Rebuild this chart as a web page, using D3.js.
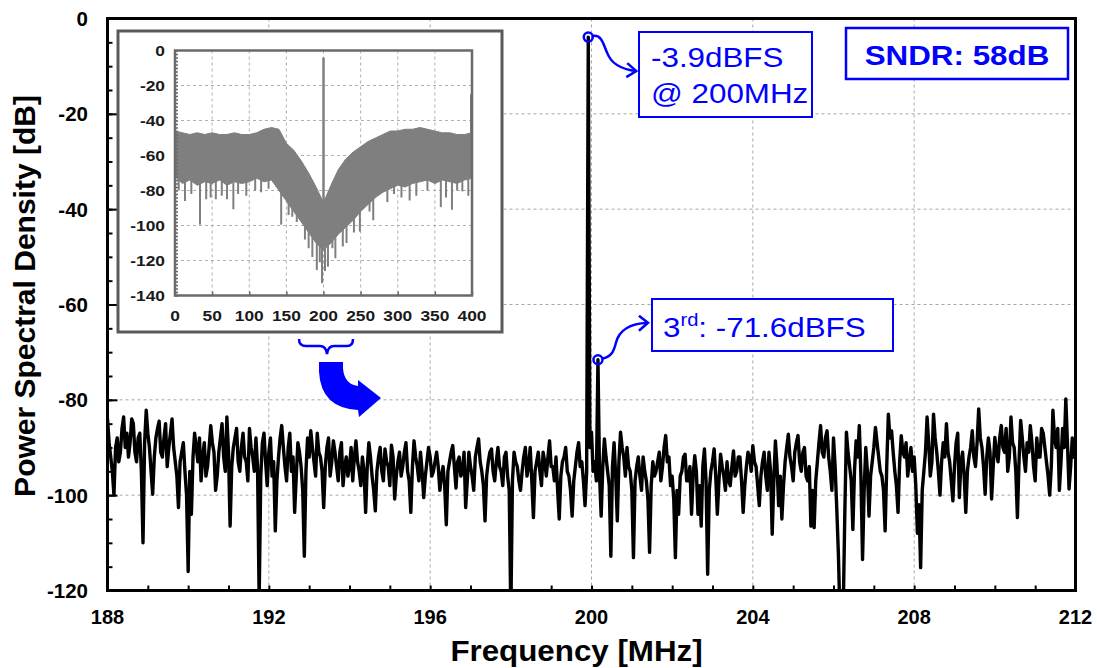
<!DOCTYPE html>
<html>
<head>
<meta charset="utf-8">
<script src="https://cdn.jsdelivr.net/npm/d3@7"></script>
<style>
  body { margin: 0; background: #fff; }
  svg { display: block; font-family: Arial, "Liberation Sans", sans-serif; }
</style>
</head>
<body>
<svg id="chart" width="1097" height="668"></svg>
<script>
// ---- spectrum around the tone: FFT bins from 188 MHz, 0.04 MHz apart ----
const binStart = 188;
const binWidth = 0.04;
const psd = [
  // 188 - 190 MHz
  -84, -89, -92, -95, -100, -90, -88, -93, -91, -86, -83.6, -90, -87, -92, -89, -84, -85, -91, -93, -88,
  -87, -95, -110, -89, -82.2, -87, -90, -95, -99.8, -92, -88, -86, -84.5, -91, -92, -88, -85, -94, -90, -87,
  -84, -90, -93, -96, -102.6, -93, -91, -89, -95, -100,
  // 190 - 192 MHz
  -116, -95, -104, -92, -87, -90, -93, -88, -97, -92, -89, -96, -94, -90, -85.4, -89, -91, -99, -96, -91,
  -88, -85, -92, -95, -83.6, -91, -106.5, -94, -90, -88, -86, -93, -95, -90, -87, -92, -93, -97, -86, -90,
  -92, -95, -88, -94, -122, -96, -89, -87, -93, -98,
  // 192 - 194 MHz
  -91, -88, -96, -93, -107.5, -97, -92, -88, -85.4, -90, -94, -97, -90, -87, -95, -92, -103.6, -96, -89, -91,
  -94, -99, -112.8, -95, -88, -92, -86.5, -90, -93, -96, -87, -91, -92, -95, -102.6, -94, -90, -88, -96, -93,
  -88.6, -91, -94, -97, -91, -89, -98, -94, -92, -96,
  // 194 - 196 MHz
  -94, -90, -97, -92, -88.6, -93, -95, -98, -92, -95, -103.6, -94, -89, -92, -96, -99, -103.3, -95, -92, -90,
  -95, -97, -90.3, -93, -94, -98, -89.5, -92, -100.8, -96, -93, -91, -96, -94, -91, -89, -95, -97, -103.6, -94,
  -88.6, -92, -94, -97, -91, -95, -100.5, -96, -93, -90,
  // 196 - 198 MHz
  -92, -96, -95, -93, -91, -94, -99, -96, -94, -98, -106.2, -95, -93, -91, -89.6, -94, -98.5, -93, -92, -96,
  -95, -91, -102.6, -97, -91, -94, -96, -99, -92, -90, -88.2, -93, -95, -98, -105.4, -96, -93, -91, -90.3, -95,
  -97, -93, -90, -94, -95, -98, -92, -91, -96, -99,
  // 198 - 200 MHz
  -125, -97, -91, -93, -94, -97, -99, -95, -92, -90, -96, -94, -90, -97, -104.7, -95, -93, -91, -95, -98,
  -91, -93, -96, -92, -88.6, -94, -94, -97, -92, -99, -105, -96, -93, -92, -90, -95, -96, -99, -104.4, -97,
  -94, -91, -89, -94, -93, -97, -102.2, -95, -3.9, -90,
  // 200 - 202 MHz
  -86.8, -95, -93, -97, -71.6, -96, -104.4, -94, -88.2, -92, -95, -98, -112.8, -94, -89, -96, -105.4, -93, -86.8, -90,
  -92, -96, -90, -94, -95, -99, -113.1, -97, -94, -92, -96, -99, -92, -95, -97, -101, -112, -98, -93, -96,
  -95, -93, -91, -97, -94, -90, -87.5, -93, -92, -98,
  // 202 - 204 MHz
  -96, -101, -113.1, -99, -104, -96, -95, -92, -91.4, -97, -97, -94, -104, -96, -91.7, -95, -104, -98, -106.5, -94,
  -90.3, -97, -116.6, -99, -95, -93, -90.3, -96, -104, -97, -91.4, -94, -96, -99, -93, -97, -98, -94, -90.7, -96,
  -95, -92, -92, -97, -103.6, -98, -94, -91, -92, -95,
  // 204 - 206 MHz
  -89.6, -93, -94, -98, -102.2, -96, -93, -91, -96, -99, -91, -95, -108.2, -97, -88.6, -94, -102.2, -96, -105, -98,
  -93, -90, -87.2, -92, -94, -97, -91, -89, -87.5, -93, -95, -91, -90, -96, -97, -94, -106.5, -99, -106.8, -97,
  -93, -89, -85.4, -91, -92, -88, -86.5, -92, -95, -99,
  // 206 - 208 MHz
  -88, -94, -102.6, -112, -125, -124, -125, -104, -86.8, -91, -94, -97, -107.2, -95, -88.6, -92, -85.4, -96, -113.5, -99,
  -90, -95, -104.4, -96, -93, -90, -85.8, -89, -92, -95, -96, -99, -107.5, -94, -83, -88, -86.5, -91, -95, -98,
  -103.6, -93, -87.5, -91, -92, -89, -96, -93, -90, -95,
  // 208 - 210 MHz
  -92, -98, -108, -102, -115.2, -99, -95, -91, -83.6, -89, -96, -93, -83, -88, -91, -95, -100, -93, -89, -92,
  -85, -91, -93, -97, -101.2, -94, -89, -87, -100.5, -93, -91, -96, -103.6, -95, -92, -90, -86.5, -92, -94, -89,
  -81.9, -88, -90, -94, -99.8, -92, -88, -91, -100.8, -94,
  // 210 - 212 MHz
  -87.9, -91, -93, -88, -85.4, -90, -91, -86, -95, -92, -83.6, -89, -90, -95, -104.7, -93, -84.3, -88, -92, -95,
  -89, -91, -85.4, -89, -94, -97, -88, -92, -92, -86, -87, -90, -93, -96, -100, -94, -82.2, -88, -90, -86,
  -99, -93, -86, -90, -79.8, -89, -98.7, -94, -88, -92,
  -91.7
];
const xTicks = [188, 192, 196, 200, 204, 208, 212];
const yTicks = [0, -20, -40, -60, -80, -100, -120];

// tone and 3rd harmonic bins (indices into psd)
const fundamentalBin = 298;
const thirdBin = 304;
const fundamentalLabel = ["-3.9dBFS", "@ 200MHz"];
const thirdLabel = ["3", "rd", ": -71.6dBFS"];
const sndrLabel = "SNDR: 58dB";

// ---- full-band spectrum (0-400 MHz) shown in the inset ----
const insetFreq = [0, 10, 20, 30, 40, 50, 60, 70, 80, 90, 100, 110, 120, 130, 140, 150, 160, 170, 180, 190, 200,
  210, 220, 230, 240, 250, 260, 270, 280, 290, 300, 310, 320, 330, 340, 350, 360, 370, 380, 390, 400];
const insetTop = [-46, -47, -48, -47, -48, -47, -48, -48, -47, -48, -48, -47, -45, -44, -45, -53, -57, -63, -70, -78, -87,
  -77, -68, -62, -58, -55, -52, -50, -48, -46, -46, -45, -45, -44, -45, -46, -47, -47, -48, -48, -47];
const insetBottom = [-72, -76, -74, -77, -75, -76, -74, -77, -75, -76, -75, -73, -75, -74, -80, -86, -92, -98, -104, -110, -114,
  -110, -105, -101, -97, -92, -88, -84, -81, -79, -77, -78, -76, -75, -74, -76, -74, -75, -76, -74, -73];
const insetDips = [
  [5, -80], [13.5, -86], [22, -82], [33.7, -99.5], [42, -85], [48, -84], [55, -85], [63, -83], [70, -85], [78.6, -90.7],
  [85, -82], [96, -83], [108, -80], [116, -81], [126, -79], [137, -78], [143, -99.5], [153, -94], [158, -95], [164, -98],
  [175, -108], [180, -113], [185, -118], [191, -125.5], [195, -121], [198, -133], [202, -126], [206, -123.5], [212, -113],
  [216, -118.7], [226, -112], [231, -110], [241, -104], [249, -103.5], [262, -92], [267, -97], [286, -86.6], [295, -82],
  [305, -84], [316, -85.7], [325, -83], [340, -80], [358, -89.5], [365, -84], [373, -91], [380, -80], [387, -80.5], [395, -83]
];
const insetSpurs = [[200, -4], [399, -25]];
const insetXTicks = [0, 50, 100, 150, 200, 250, 300, 350, 400];
const insetYTicks = [0, -20, -40, -60, -80, -100, -120, -140];

const BLUE = "#0000ff";
const WIDE = 1.12;          // horizontal stretch applied to label text
const svg = d3.select("#chart");

// text helper: anchored at (x, y), optionally widened horizontally
function label(parent, x, y, sx) {
  return parent.append("text").attr("transform", `translate(${x},${y}) scale(${sx},1)`);
}

// ---------------- main plot ----------------
const x = d3.scaleLinear([188, 212], [107.5, 1075.5]);
const y = d3.scaleLinear([-120, 0], [590.5, 18.5]);
const [xl, xr] = x.range();
const [yb, yt] = y.range();

// grid
const grid = svg.append("g").attr("stroke", "#a6a6a6").attr("stroke-width", 1).attr("stroke-dasharray", "3,3");
grid.selectAll("line.v").data(xTicks.slice(1, -1)).join("line")
  .attr("x1", d => x(d)).attr("x2", d => x(d)).attr("y1", yt).attr("y2", yb);
grid.selectAll("line.h").data(yTicks.slice(1, -1)).join("line")
  .attr("y1", d => y(d)).attr("y2", d => y(d)).attr("x1", xl).attr("x2", xr);

// trace
svg.append("clipPath").attr("id", "plotClip")
  .append("rect").attr("x", xl).attr("y", yt).attr("width", xr - xl).attr("height", yb - yt);
const spectrum = psd.map((v, i) => ({ f: binStart + i * binWidth, v }));
svg.append("path")
  .datum(spectrum)
  .attr("clip-path", "url(#plotClip)")
  .attr("fill", "none").attr("stroke", "#000").attr("stroke-width", 3.4).attr("stroke-linejoin", "round")
  .attr("d", d3.line().x(d => x(d.f)).y(d => y(d.v)));

// ticks (inward)
svg.append("g").attr("transform", `translate(0,${yb})`)
  .call(d3.axisBottom(x).tickValues(d3.range(188, 213, 1)).tickSize(-5).tickFormat(""))
  .call(g => g.select(".domain").remove())
  .selectAll("line").attr("stroke", "#000").attr("stroke-width", 2);
svg.append("g").attr("transform", `translate(${xl},0)`)
  .call(d3.axisLeft(y).tickValues(d3.range(-120, 1, 5)).tickSize(-5).tickFormat(""))
  .call(g => g.select(".domain").remove())
  .selectAll("line").attr("stroke", "#000").attr("stroke-width", 2);
svg.append("g").attr("transform", `translate(${xl},0)`)
  .call(d3.axisLeft(y).tickValues(yTicks).tickSize(-10).tickFormat(""))
  .call(g => g.select(".domain").remove())
  .selectAll("line").attr("stroke", "#000").attr("stroke-width", 2);

// frame
svg.append("rect").attr("x", xl).attr("y", yt).attr("width", xr - xl).attr("height", yb - yt)
  .attr("fill", "none").attr("stroke", "#000").attr("stroke-width", 3);

// tick labels
svg.append("g").selectAll("text").data(yTicks).join("text")
  .attr("x", 88).attr("y", d => y(d)).attr("dy", "0.36em")
  .attr("text-anchor", "end").attr("font-weight", "bold").attr("font-size", 20.5).text(d => d);
svg.append("g").selectAll("text").data(xTicks).join("text")
  .attr("x", d => x(d)).attr("y", 624)
  .attr("text-anchor", "middle").attr("font-weight", "bold").attr("font-size", 20).text(d => d);

// axis titles
label(svg, x(200) - 15, 661, 1.08).attr("text-anchor", "middle")
  .attr("font-weight", "bold").attr("font-size", 29).text("Frequency [MHz]");
svg.append("text").attr("transform", "translate(35,296) rotate(-90)").attr("text-anchor", "middle")
  .attr("font-weight", "bold").attr("font-size", 30).text("Power Spectral Density [dB]");

// ---------------- annotations ----------------
const fund = spectrum[fundamentalBin];
const third = spectrum[thirdBin];
const ann = svg.append("g").attr("fill", "none").attr("stroke", BLUE).attr("stroke-width", 2.5);

const fx = x(fund.f), fy = y(fund.v);
ann.append("circle").attr("cx", fx).attr("cy", fy).attr("r", 4.5);
ann.append("path").attr("d", `M${fx + 4},${fy - 1} C${fx + 14},${fy - 3} ${fx + 15},${fy + 8} ${fx + 19},${fy + 16} C${fx + 23},${fy + 26} ${fx + 31},${fy + 32} ${fx + 48},${fy + 34}`);
ann.append("path").attr("d", `M${fx + 39},${fy + 26} L${fx + 48},${fy + 34} L${fx + 38},${fy + 40}`);

const tx = x(third.f), ty = y(third.v);
ann.append("circle").attr("cx", tx).attr("cy", ty).attr("r", 4.5);
ann.append("path").attr("d", `M${tx + 4},${ty - 1} C${tx + 14},${ty - 3} ${tx + 16},${ty - 9} ${tx + 18},${ty - 17} C${tx + 21},${ty - 29} ${tx + 30},${ty - 36} ${tx + 50},${ty - 37}`);
ann.append("path").attr("d", `M${tx + 41},${ty - 44} L${tx + 50},${ty - 37} L${tx + 41},${ty - 29}`);

// label boxes
svg.append("rect").attr("x", 639).attr("y", 32).attr("width", 173).attr("height", 85)
  .attr("fill", "#fff").attr("stroke", BLUE).attr("stroke-width", 2);
fundamentalLabel.forEach((t, i) => {
  label(svg, 651, 67 + i * 36, WIDE).attr("fill", BLUE).attr("font-size", 28).text(t);
});

svg.append("rect").attr("x", 652).attr("y", 299).attr("width", 241).attr("height", 52)
  .attr("fill", "#fff").attr("stroke", BLUE).attr("stroke-width", 2);
const t3 = label(svg, 663, 337, WIDE).attr("fill", BLUE).attr("font-size", 28);
t3.append("tspan").text(thirdLabel[0]);
t3.append("tspan").attr("font-size", 18).attr("dy", -11).text(thirdLabel[1]);
t3.append("tspan").attr("dy", 11).text(thirdLabel[2]);

svg.append("rect").attr("x", 846).attr("y", 28).attr("width", 222).attr("height", 51)
  .attr("fill", "#fff").attr("stroke", BLUE).attr("stroke-width", 2.5);
label(svg, 957, 65, WIDE).attr("text-anchor", "middle").attr("fill", BLUE)
  .attr("font-weight", "bold").attr("font-size", 28).text(sndrLabel);

// ---------------- inset: full Nyquist band ----------------
const ix = d3.scaleLinear([0, 400], [175, 472]);
const iy = d3.scaleLinear([-140, 0], [295.5, 50.5]);
const [ixl, ixr] = ix.range();
const [iyb, iyt] = iy.range();
const INSET_GRAY = "#7f7f7f";

svg.append("rect").attr("x", 118).attr("y", 31).attr("width", 384).attr("height", 301)
  .attr("fill", "#fff").attr("stroke", "#5a5a5a").attr("stroke-width", 3);

const igrid = svg.append("g").attr("stroke", "#b0b0b0").attr("stroke-width", 1).attr("stroke-dasharray", "3,3");
igrid.selectAll("line.v").data(insetXTicks.slice(1, -1)).join("line")
  .attr("x1", d => ix(d)).attr("x2", d => ix(d)).attr("y1", iyt).attr("y2", iyb);
igrid.selectAll("line.h").data(insetYTicks.slice(1, -1)).join("line")
  .attr("y1", d => iy(d)).attr("y2", d => iy(d)).attr("x1", ixl).attr("x2", ixr);

const band = insetFreq.map((f, i) => ({ f, hi: insetTop[i], lo: insetBottom[i] }));
svg.append("path").datum(band)
  .attr("fill", INSET_GRAY).attr("stroke", INSET_GRAY).attr("stroke-width", 1)
  .attr("d", d3.area().x(d => ix(d.f)).y0(d => iy(d.lo)).y1(d => iy(d.hi)));

const bandLow = d3.scaleLinear(insetFreq, insetBottom);
const bandHigh = d3.scaleLinear(insetFreq, insetTop);
svg.append("g").attr("stroke", INSET_GRAY).attr("stroke-width", 2)
  .selectAll("line").data(insetDips).join("line")
  .attr("x1", d => ix(d[0])).attr("x2", d => ix(d[0]))
  .attr("y1", d => iy(bandLow(d[0]) + 2)).attr("y2", d => iy(d[1]));
svg.append("g").attr("stroke", INSET_GRAY).attr("stroke-width", 2.5)
  .selectAll("line").data(insetSpurs).join("line")
  .attr("x1", d => ix(d[0])).attr("x2", d => ix(d[0]))
  .attr("y1", d => iy(bandHigh(d[0]) - 2)).attr("y2", d => iy(d[1]));

// inset ticks
svg.append("g").attr("transform", `translate(${ixl},0)`)
  .call(d3.axisLeft(iy).tickValues(d3.range(-140, 1, 2)).tickSize(-3).tickFormat(""))
  .call(g => g.select(".domain").remove())
  .selectAll("line").attr("stroke", "#6a6a6a").attr("stroke-width", 1.5);
svg.append("g").attr("transform", `translate(0,${iyb})`)
  .call(d3.axisBottom(ix).tickValues(insetXTicks).tickSize(-4).tickFormat(""))
  .call(g => g.select(".domain").remove())
  .selectAll("line").attr("stroke", "#6a6a6a").attr("stroke-width", 1.5);

svg.append("rect").attr("x", ixl).attr("y", iyt).attr("width", ixr - ixl).attr("height", iyb - iyt)
  .attr("fill", "none").attr("stroke", "#6a6a6a").attr("stroke-width", 2.5);

insetYTicks.forEach(d => {
  label(svg, 165, iy(d), WIDE).attr("dy", "0.36em").attr("text-anchor", "end")
    .attr("fill", "#1a1a1a").attr("font-weight", "bold").attr("font-size", 15.5).text(d);
});
insetXTicks.forEach(d => {
  label(svg, ix(d), 321, WIDE).attr("text-anchor", "middle")
    .attr("fill", "#1a1a1a").attr("font-weight", "bold").attr("font-size", 15.5).text(d);
});

// brace marking the zoomed span, and the arrow pointing to the main plot
svg.append("path")
  .attr("d", "M299,339 Q299,346 306,346 L320,346 Q326,346 327,354 Q328,346 334,346 L347,346 Q353,346 353,339")
  .attr("fill", "none").attr("stroke", BLUE).attr("stroke-width", 2.5);
svg.append("path")
  .attr("d", "M319,362 L343,362 L343,368 Q344,384 358,386 L358,380 L381,398 L359,417 L358,410 Q321,408 319,372 Z")
  .attr("fill", BLUE);
</script>
</body>
</html>
